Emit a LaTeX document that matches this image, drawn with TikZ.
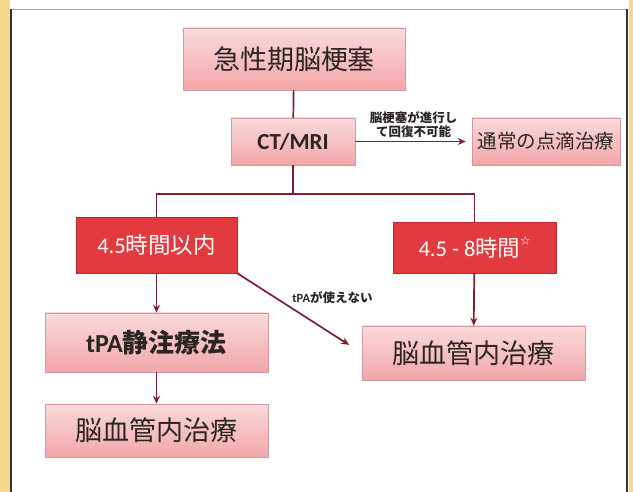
\documentclass[tikz,border=0pt]{standalone}
\usepackage{fontspec}
\setmainfont{Noto Sans CJK JP}
\newfontfamily\lat{Carlito}
\usetikzlibrary{arrows.meta, shadows}

\definecolor{linkred}{HTML}{7D1F2D}
\definecolor{pinktop}{HTML}{FADADB}
\definecolor{pinkbot}{HTML}{F2A6A9}
\definecolor{pinkedge}{HTML}{D29A9C}
\definecolor{boxred}{HTML}{E23A3F}
\definecolor{rededge}{HTML}{B8282D}
\definecolor{inkgray}{HTML}{2B2526}
\definecolor{bgyellow}{HTML}{F6D78E}

\begin{document}
\begin{tikzpicture}[x=1pt, y=-1pt,
	pinkbox/.style={draw=pinkedge, line width=0.5pt, top color=pinktop, bottom color=pinkbot,
		text=inkgray, inner sep=0pt,
		drop shadow={shadow xshift=1.2pt, shadow yshift=-1.2pt, opacity=0.3}},
	redbox/.style={draw=rededge, line width=0.5pt, fill=boxred, text=white, inner sep=0pt},
	link/.style={draw=linkred, line width=1.7pt},
	arrow/.style={link, -{Stealth[length=8pt, width=7pt]}},
	note/.style={text=inkgray, font=\bfseries\fontsize{12.5}{14}\selectfont}]
	\useasboundingbox (0,0) rectangle (633,492);
	% page and frame
	\fill[white] (0,0) rectangle (633,492);
	\fill[bgyellow] (0,0) rectangle (10,492);
	\fill[bgyellow] (629,0) rectangle (633,492);
	\draw[gray!70, line width=0.7pt] (11,9) -- (627,9);
	\draw[black!80, line width=1.4pt] (11,492) -- (11,9) (627,9) -- (627,492);

	\node[pinkbox, minimum width=222, minimum height=62, font=\fontsize{27}{30}\selectfont]
		(acute) at (294,59) {急性期脳梗塞};
	\node[pinkbox, minimum width=124, minimum height=47, font=\lat\bfseries\fontsize{23}{26}\selectfont]
		(ct) at (293,141.5) {CT/MRI};
	\node[pinkbox, minimum width=148, minimum height=47, font=\fontsize{19.5}{22}\selectfont]
		(drip) at (546,141.5) {通常の点滴治療};
	\node[redbox, minimum width=161, minimum height=56, font=\fontsize{22.5}{25}\selectfont]
		(early) at (156.5,245) {{\lat 4.5}時間以内};
	\node[redbox, minimum width=163, minimum height=51, font=\fontsize{22.5}{25}\selectfont]
		(late) at (474.5,247.5) {{\lat 4.5 - 8}時間\raisebox{0.55em}{\fontsize{10}{10}\selectfont ☆}};
	\node[pinkbox, minimum width=223, minimum height=59, font=\bfseries\fontsize{26}{30}\selectfont]
		(tpa) at (156.5,342.5) {{\lat tPA}静注療法};
	\node[pinkbox, minimum width=223, minimum height=53, font=\fontsize{27}{30}\selectfont]
		(evt1) at (156.5,430.5) {脳血管内治療};
	\node[pinkbox, minimum width=223, minimum height=54, font=\fontsize{27}{30}\selectfont]
		(evt2) at (473.5,353) {脳血管内治療};
	\coordinate (split) at (293,194);

	\draw[link] (acute) -- (ct);
	\draw[link] (ct) -- (split);
	\draw[link] (early.north) |- (split) -| (late.north);
	\path
		(ct) edge [arrow, shorten >=6pt] node [note, above, align=center, inner sep=3pt]
			{脳梗塞が進行し\\て回復不可能} (drip)
		(early) edge [arrow] (tpa)
		(tpa) edge [arrow] (evt1)
		(late) edge [arrow] (evt2)
		(early.south east) edge [arrow, shorten >=15pt] node [note, pos=0.42, anchor=south west, inner sep=2pt]
			{{\lat tPA}が使えない} (evt2.west)
	;
\end{tikzpicture}
\end{document}
